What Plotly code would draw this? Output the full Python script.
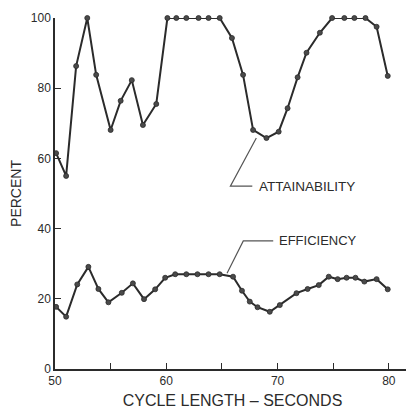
import plotly.graph_objects as go

# Attainability series
att_x = [50.1, 51.0, 51.9, 52.9, 53.7, 55.0, 55.9, 56.9, 57.9, 59.1,
         60.1, 60.9, 61.8, 62.9, 63.8, 64.8, 65.9, 66.9, 67.8, 69.0,
         70.1, 70.9, 71.8, 72.6, 73.8, 74.9, 76.0, 76.9, 77.9, 78.9, 79.9]
att_y = [61.5, 55.0, 86.3, 100, 83.8, 68.1, 76.4, 82.3, 69.5, 75.5,
         100, 100, 100, 100, 100, 100, 94.3, 83.8, 68.1, 65.8,
         67.6, 74.3, 83.1, 90.1, 95.8, 100, 100, 100, 100, 97.5, 83.5]

# Efficiency series
eff_x = [50.1, 51.0, 52.0, 53.0, 53.9, 54.8, 56.0, 57.0, 58.0, 59.0,
         59.9, 60.8, 61.8, 62.8, 63.8, 64.8, 66.0, 66.8, 67.5, 68.2,
         69.3, 70.2, 71.7, 72.7, 73.7, 74.6, 75.4, 76.2, 77.0, 77.8, 78.9, 79.9]
eff_y = [17.7, 14.9, 24.1, 29.1, 22.8, 19.0, 21.7, 24.4, 19.9, 22.7,
         26.0, 27.0, 27.0, 27.0, 27.0, 27.0, 26.3, 22.3, 19.2, 17.6,
         16.3, 18.2, 21.6, 22.8, 23.9, 26.3, 25.6, 26.0, 26.0, 24.9, 25.6, 22.7]

x_tick_vals = [50, 55, 60, 65, 70, 75, 80]
x_tick_text = ["50", "", "60", "", "70", "", "80"]
y_tick_vals = [0, 20, 40, 60, 80, 100]

ink = "#2b2b2b"
fnt = "Liberation Sans, Arial, sans-serif"

fig = go.Figure()
for xs, ys, name in [(att_x, att_y, "ATTAINABILITY"), (eff_x, eff_y, "EFFICIENCY")]:
    fig.add_trace(go.Scatter(
        x=xs, y=ys, mode="lines+markers", name=name,
        line=dict(color=ink, width=2),
        marker=dict(color="#4a4a4a", size=5, line=dict(color=ink, width=0.8)),
        cliponaxis=False, showlegend=False,
    ))

# leader lines (in data coordinates)
fig.add_trace(go.Scatter(x=[68.09, 65.76, 67.73], y=[65.8, 52.1, 52.1], mode="lines",
                         line=dict(color="#555555", width=1.2), showlegend=False, hoverinfo="skip"))
fig.add_trace(go.Scatter(x=[65.46, 66.92, 69.61], y=[27.3, 36.5, 36.5], mode="lines",
                         line=dict(color="#555555", width=1.2), showlegend=False, hoverinfo="skip"))

fig.add_annotation(x=68.18, y=52.1, text="ATTAINABILITY", showarrow=False,
                   xanchor="left", yanchor="middle",
                   font=dict(family=fnt, size=13.5, color=ink))
fig.add_annotation(x=69.97, y=36.5, text="EFFICIENCY", showarrow=False,
                   xanchor="left", yanchor="middle",
                   font=dict(family=fnt, size=13, color=ink))

fig.update_layout(
    width=406, height=404,
    margin=dict(l=47, r=4, t=10, b=43),
    paper_bgcolor="white", plot_bgcolor="white",
    font=dict(family=fnt, color=ink, size=12),
    xaxis=dict(range=[50, 81.9], tickvals=x_tick_vals, ticktext=x_tick_text,
               ticks="inside", ticklen=6, tickwidth=1.2, tickcolor=ink,
               showline=True, linecolor=ink, linewidth=1.5, showgrid=False, zeroline=False,
               tickfont=dict(size=12),
               title=dict(text="CYCLE LENGTH \u2013 SECONDS", font=dict(size=16), standoff=8)),
    yaxis=dict(range=[0, 100], tickvals=y_tick_vals,
               ticks="inside", ticklen=6, tickwidth=1.2, tickcolor=ink,
               showline=True, linecolor=ink, linewidth=1.5, showgrid=False, zeroline=False,
               tickfont=dict(size=12),
               title=dict(text="PERCENT", font=dict(size=14), standoff=10)),
)

fig.write_html("out.html")
